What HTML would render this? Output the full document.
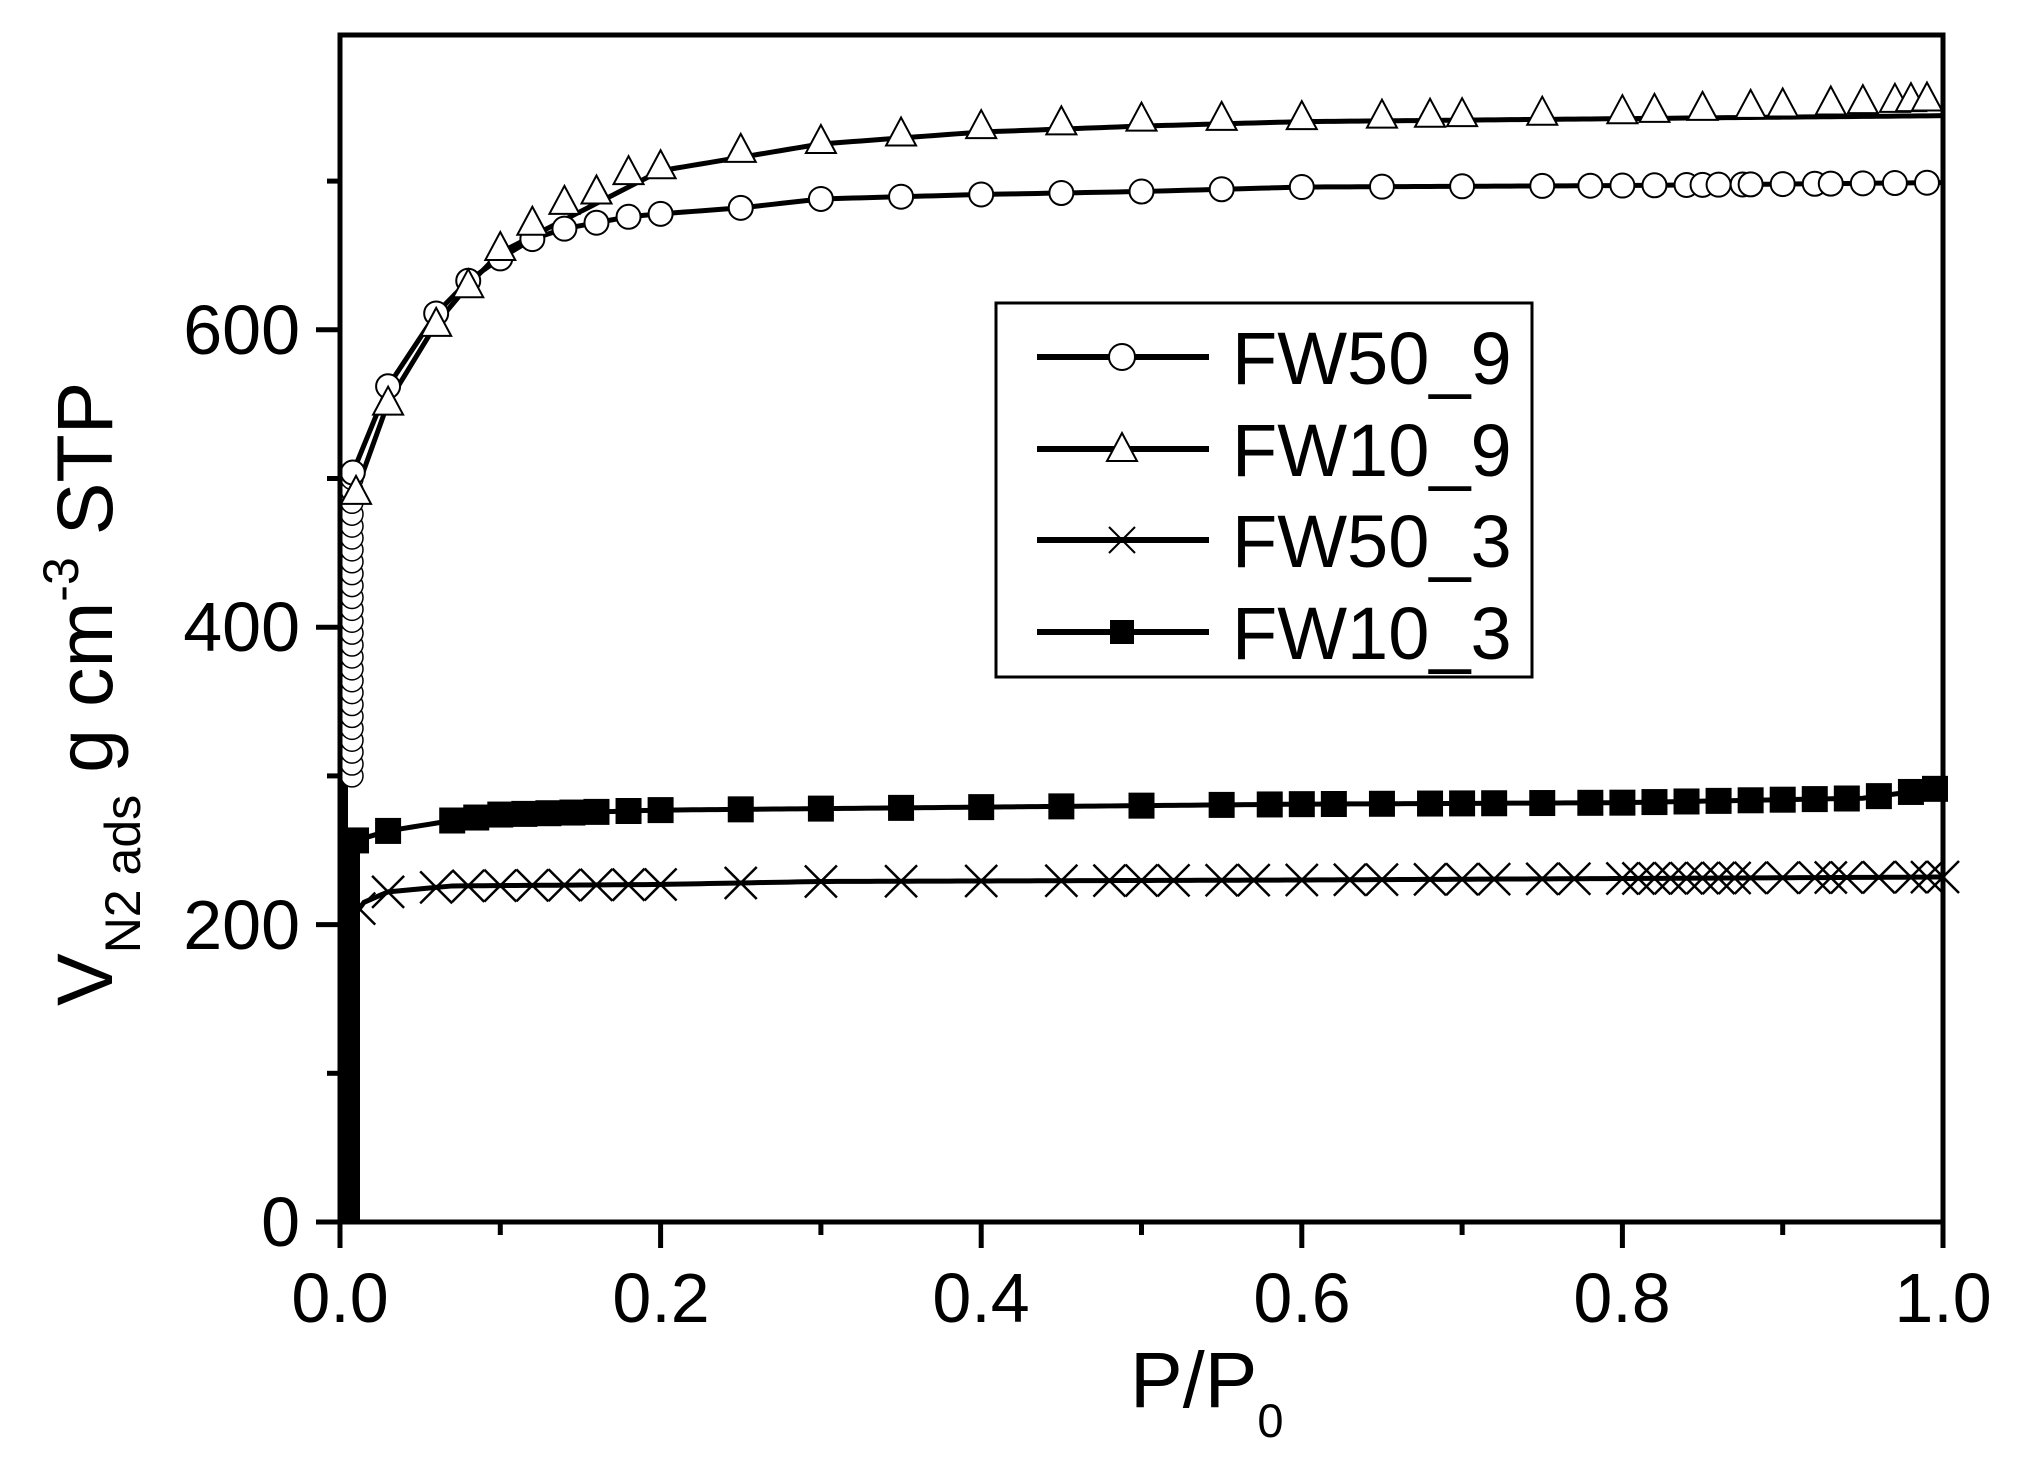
<!DOCTYPE html>
<html><head><meta charset="utf-8"><style>
html,body{margin:0;padding:0;background:#fff;}
svg{display:block;font-family:"Liberation Sans",Arial,sans-serif;}
</style></head><body>
<svg id="s" width="2029" height="1462" viewBox="0 0 2029 1462" xmlns="http://www.w3.org/2000/svg">
<rect width="2029" height="1462" fill="#fff"/>
<g id="data"></g>
<rect x="340" y="35" width="1603" height="1187" fill="none" stroke="#000" stroke-width="5"/>
<g id="ticks" stroke="#000" stroke-width="5"></g>
<g font-size="70" fill="#000">
<text x="300" y="1246" text-anchor="end">0</text>
<text x="300" y="949" text-anchor="end">200</text>
<text x="300" y="651" text-anchor="end">400</text>
<text x="300" y="354" text-anchor="end">600</text>
<text x="340" y="1322" text-anchor="middle">0.0</text>
<text x="661" y="1322" text-anchor="middle">0.2</text>
<text x="981" y="1322" text-anchor="middle">0.4</text>
<text x="1302" y="1322" text-anchor="middle">0.6</text>
<text x="1622" y="1322" text-anchor="middle">0.8</text>
<text x="1943" y="1322" text-anchor="middle">1.0</text>
</g>
<text x="1130" y="1407" font-size="79">P/P<tspan font-size="47" dy="30">0</tspan></text>
<text transform="translate(112,1006) rotate(-90)" font-size="79">V<tspan font-size="50" dy="28">N2 ads</tspan><tspan dy="-28"> g cm</tspan><tspan font-size="50" dy="-34">-3</tspan><tspan dy="34"> STP</tspan></text>
<rect x="996" y="303" width="536" height="374" fill="#fff" stroke="#000" stroke-width="3"/>
<g stroke="#000" stroke-width="6">
<line x1="1037" y1="357" x2="1209" y2="357"/><line x1="1037" y1="449" x2="1209" y2="449"/>
<line x1="1037" y1="540" x2="1209" y2="540"/><line x1="1037" y1="632" x2="1209" y2="632"/>
</g>
<circle cx="1122" cy="357" r="13" fill="#fff" stroke="#000" stroke-width="2"/>
<polygon points="1122,433 1107,461 1137,461" fill="#fff" stroke="#000" stroke-width="2"/>
<g stroke="#000" stroke-width="2"><line x1="1109" y1="527" x2="1135" y2="553"/><line x1="1109" y1="553" x2="1135" y2="527"/></g>
<rect x="1110" y="620" width="24" height="24" fill="#000"/>
<g font-size="74" fill="#000">
<text x="1232" y="384">FW50_9</text><text x="1232" y="476">FW10_9</text>
<text x="1232" y="567">FW50_3</text><text x="1232" y="659">FW10_3</text>
</g>
</svg>
<script>
(function(){
var NS="http://www.w3.org/2000/svg";
function X(p){return 340+1603*p;} function Y(v){return 1222-1.487*v;}
function el(n,a,par){var e=document.createElementNS(NS,n);for(var k in a)e.setAttribute(k,a[k]);par.appendChild(e);return e;}
var t=document.getElementById('ticks');
for(var v=0;v<=750;v+=100){var y=Y(v);el('line',{x1:(v%200==0)?316:327,y1:y,x2:340,y2:y},t);}
for(var i=0;i<=10;i++){var x=X(i/10);el('line',{x1:x,y1:1222,x2:x,y2:(i%2==0)?1248:1235},t);}
function interp(p,a){if(p<=a[0][0])return a[0][1];for(var i=1;i<a.length;i++){if(p<=a[i][0]){var f=(p-a[i-1][0])/(a[i][0]-a[i-1][0]);return a[i-1][1]+f*(a[i][1]-a[i-1][1]);}}return a[a.length-1][1];}
var d=document.getElementById('data');
var A50_9=[[0.008,504],[0.03,562],[0.06,611],[0.08,633],[0.1,648],[0.12,661],[0.14,668],[0.16,672],[0.18,676],[0.2,678],[0.25,682],[0.3,688],[0.4,691],[0.5,693],[0.6,696],[0.8,697],[1,699]];
var A10_9=[[0.01,491],[0.03,551],[0.06,604],[0.08,630],[0.1,655],[0.12,672],[0.14,686],[0.16,693],[0.18,706],[0.2,710],[0.25,721],[0.3,727],[0.4,737],[0.5,742],[0.6,743],[0.8,747],[1,756]];
var L10_9=[[0.01,491],[0.03,551],[0.06,604],[0.08,630],[0.1,652],[0.2,707],[0.3,725],[0.4,733],[0.5,737],[0.6,740],[0.8,742],[1,744]];
var A10_3=[[0.005,255],[0.03,263],[0.07,270],[0.1,274],[0.2,277],[0.4,279],[0.6,281],[0.8,282],[0.95,285],[1,292]];
var A50_3=[[0.008,205],[0.015,215],[0.03,222],[0.07,226],[0.2,227],[0.3,229],[0.6,230],[1,232]];
function line(a){var pts=[];for(var p=0.005;p<=1.0001;p+=0.005)pts.push(X(p)+','+Y(interp(p,a)));el('polyline',{points:pts.join(' '),fill:'none',stroke:'#000','stroke-width':5},d);}
el('rect',{x:340,y:Y(262),width:20,height:1222-Y(262),fill:'#000'},d);
el('rect',{x:340,y:Y(300),width:8,height:Y(262)-Y(300),fill:'#000'},d);
line(A10_3);line(A50_3);line(A50_9);line(L10_9);
var ps3=[0.01,0.03,0.07,0.085,0.1,0.115,0.13,0.145,0.16,0.18,0.2,0.25,0.3,0.35,0.4,0.45,0.5,0.55,0.58,0.6,0.62,0.65,0.68,0.7,0.72,0.75,0.78,0.8,0.82,0.84,0.86,0.88,0.9,0.92,0.94,0.96,0.98,0.995];
ps3.forEach(function(p){el('rect',{x:X(p)-13,y:Y(interp(p,A10_3))-13,width:26,height:26,fill:'#000'},d);});
var px=[0.012,0.03,0.06,0.08,0.1,0.12,0.14,0.16,0.18,0.2,0.25,0.3,0.35,0.4,0.45,0.48,0.5,0.52,0.55,0.57,0.6,0.63,0.65,0.68,0.7,0.72,0.75,0.77,0.8,0.81,0.82,0.83,0.84,0.85,0.86,0.87,0.88,0.9,0.92,0.93,0.94,0.96,0.98,0.99,1.0];
px.forEach(function(p){var x=X(p),y=Y(interp(p,A50_3));el('path',{d:'M'+(x-16)+' '+(y-16)+'L'+(x+16)+' '+(y+16)+'M'+(x-16)+' '+(y+16)+'L'+(x+16)+' '+(y-16),stroke:'#000','stroke-width':2.5,fill:'none'},d);});
for(var v=300;v<=500;v+=8){el('circle',{cx:352,cy:Y(v),r:11,fill:'#fff',stroke:'#000','stroke-width':1.5},d);}
var pc=[0.008,0.03,0.06,0.08,0.1,0.12,0.14,0.16,0.18,0.2,0.25,0.3,0.35,0.4,0.45,0.5,0.55,0.6,0.65,0.7,0.75,0.78,0.8,0.82,0.84,0.85,0.86,0.875,0.88,0.9,0.92,0.93,0.95,0.97,0.99];
pc.forEach(function(p){el('circle',{cx:X(p),cy:Y(interp(p,A50_9)),r:12,fill:'#fff',stroke:'#000','stroke-width':2},d);});
var pt=[0.01,0.03,0.06,0.08,0.1,0.12,0.14,0.16,0.18,0.2,0.25,0.3,0.35,0.4,0.45,0.5,0.55,0.6,0.65,0.68,0.7,0.75,0.8,0.82,0.85,0.88,0.9,0.93,0.95,0.97,0.98,0.99];
pt.forEach(function(p){var x=X(p),y=Y(interp(p,A10_9));el('polygon',{points:x+','+(y-16)+' '+(x-15)+','+(y+12)+' '+(x+15)+','+(y+12),fill:'#fff',stroke:'#000','stroke-width':2},d);});
})();
</script>
</body></html>
